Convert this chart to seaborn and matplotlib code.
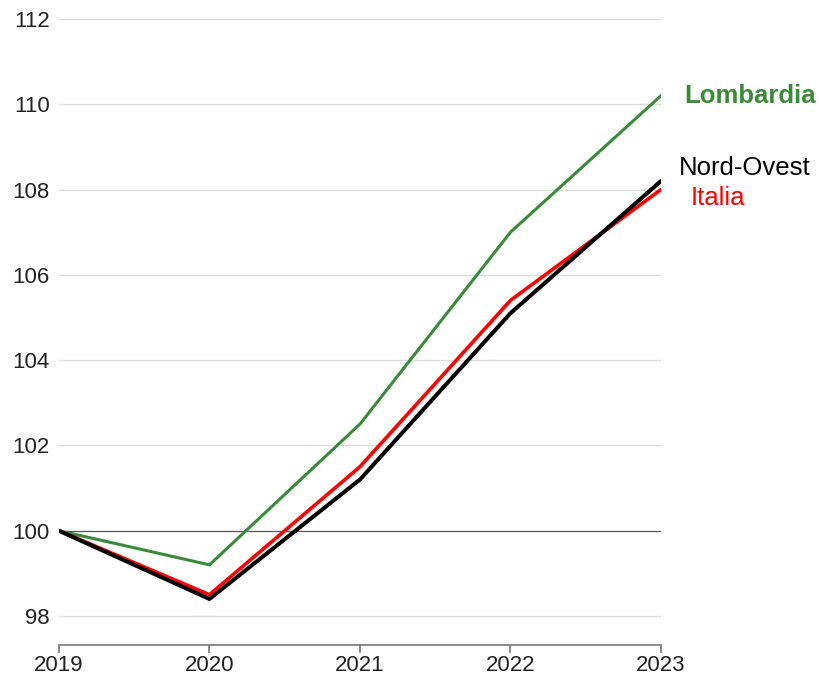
import pandas as pd
import matplotlib
matplotlib.use('Agg')
import matplotlib.pyplot as plt
import seaborn as sns

years = [2019, 2020, 2021, 2022, 2023]
lombardia = [100.0, 99.2, 102.5, 107.0, 110.2]
italia = [100.0, 98.5, 101.5, 105.4, 108.0]
nord_ovest = [100.0, 98.4, 101.2, 105.1, 108.2]

series = ['Lombardia', 'Italia', 'Nord-Ovest']
colors = {'Lombardia': '#3a8a3a', 'Italia': '#ff0000', 'Nord-Ovest': '#000000'}
widths = {'Lombardia': 2.2, 'Italia': 2.6, 'Nord-Ovest': 2.9}

df = pd.DataFrame({
    'anno': years * 3,
    'valore': lombardia + italia + nord_ovest,
    'serie': ['Lombardia'] * 5 + ['Italia'] * 5 + ['Nord-Ovest'] * 5,
})

sns.set_style('white')
plt.rcParams['font.family'] = ['Liberation Sans', 'DejaVu Sans']

fig = plt.figure(figsize=(8.19, 6.75), dpi=100)
ax = fig.add_axes([0.072, 0.0444, 0.735, 0.9275])

for s in series:
    sns.lineplot(data=df[df['serie'] == s], x='anno', y='valore', color=colors[s],
                 linewidth=widths[s], ax=ax, legend=False, zorder=3)

ax.set_xlim(2019, 2023)
ax.set_ylim(97.32, 112)
ax.set_yticks([98, 100, 102, 104, 106, 108, 110, 112])
ax.set_xticks(years)
ax.set_xticklabels([str(y) for y in years])
ax.set_xlabel('')
ax.set_ylabel('')

for v in [98, 102, 104, 106, 108, 110, 112]:
    ax.axhline(v, color='#dddddd', linewidth=1, zorder=1)
ax.axhline(100, color='#555555', linewidth=0.9, zorder=2)

for side in ['left', 'right', 'top']:
    ax.spines[side].set_visible(False)
ax.spines['bottom'].set_color('#777777')
ax.spines['bottom'].set_linewidth(1.2)

ax.tick_params(axis='x', bottom=True, direction='out', length=6, width=1.2, color='#777777',
               labelsize=16, pad=1, labelcolor='#222222')
ax.tick_params(axis='y', left=False, length=0, labelsize=16, pad=6.5, labelcolor='#222222')

ax.text(2023.155, 110.2, 'Lombardia', color='#3a8a3a', fontsize=18.5, fontweight='bold',
        va='center', ha='left')
ax.text(2023.12, 108.5, 'Nord-Ovest', color='#000000', fontsize=18.5, va='center', ha='left')
ax.text(2023.195, 107.8, 'Italia', color='#ff0000', fontsize=18.5, va='center', ha='left')

fig.savefig('out.png', dpi=100)
